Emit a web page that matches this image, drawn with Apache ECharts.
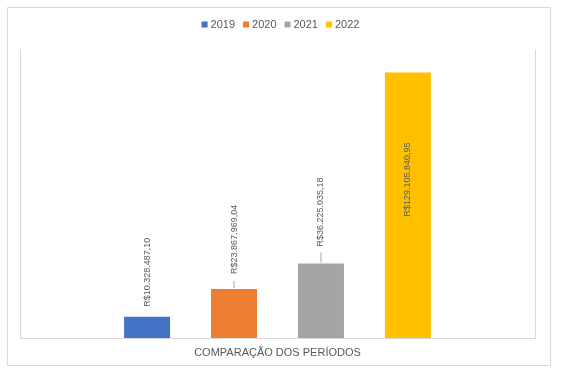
<!DOCTYPE html>
<html><head><meta charset="utf-8">
<script src="https://cdn.jsdelivr.net/npm/echarts@6/dist/echarts.min.js"></script>
<style>html,body{margin:0;padding:0;background:#fff}#c{width:561px;height:380px}</style>
</head><body><div id="c"></div>
<script>
const categories = ['COMPARAÇÃO DOS PERÍODOS'];
const seriesNames = ['2019', '2020', '2021', '2022'];
const values = [10328487.10, 23867969.04, 36225035.18, 129105840.95];
const colors = ['#4472C4', '#ED7D31', '#A5A5A5', '#FFC000'];
const yMax = 140000000;

function brl(v) {
  const parts = v.toFixed(2).split('.');
  const intPart = parts[0].replace(/\B(?=(\d{3})+(?!\d))/g, '.');
  return 'R$' + intPart + ',' + parts[1];
}

const labelCfg = [
  {position: 'top', distance: 10, align: 'left', lead: 0, gap: 0},
  {position: 'top', distance: 1, align: 'left', lead: 7, gap: 7},
  {position: 'top', distance: 1, align: 'left', lead: 10, gap: 6},
  {position: 'insideTop', distance: 70, align: 'right', lead: 0, gap: 0}
];

const series = seriesNames.map((name, i) => {
  const c = labelCfg[i];
  return {
    name: name,
    type: 'bar',
    data: [values[i]],
    barWidth: 46,
    barGap: '89%',
    itemStyle: {color: colors[i]},
    label: {
      show: true,
      position: c.position,
      distance: c.distance,
      rotate: 90,
      align: c.align,
      verticalAlign: 'middle',
      fontFamily: 'Liberation Sans',
      fontSize: 9,
      color: '#595959',
      formatter: p => (c.lead ? '{l|}{s|}' : '') + '{v|' + brl(p.value) + '}',
      rich: {
        l: {width: c.lead, height: 1, backgroundColor: '#a6a6a6'},
        s: {width: c.gap, height: 1},
        v: {fontFamily: 'Liberation Sans', fontSize: 9, color: '#595959'}
      }
    }
  };
});

const chart = echarts.init(document.getElementById('c'));
chart.setOption({
  animation: false,
  backgroundColor: '#fff',
  graphic: [{
    type: 'rect', silent: true, z: -10,
    shape: {x: 7.5, y: 7.5, width: 543, height: 358},
    style: {fill: '#fff', stroke: '#d9d9d9', lineWidth: 1}
  }],
  legend: {
    data: seriesNames,
    top: 14,
    left: 'center',
    icon: 'rect',
    itemWidth: 6,
    itemHeight: 6,
    itemGap: 8,
    textStyle: {fontFamily: 'Liberation Sans', fontSize: 11, color: '#595959', padding: [0, 0, 0, -2]}
  },
  grid: {left: 20, right: 26, top: 50, bottom: 42, containLabel: false},
  xAxis: {
    type: 'category',
    data: categories,
    axisLine: {show: true, lineStyle: {color: '#d9d9d9'}},
    axisTick: {show: false},
    axisLabel: {margin: 9, fontFamily: 'Liberation Sans', fontSize: 11, color: '#595959'}
  },
  yAxis: [{
    type: 'value', min: 0, max: yMax,
    axisLine: {show: true, lineStyle: {color: '#d9d9d9'}},
    axisTick: {show: false}, axisLabel: {show: false}, splitLine: {show: false}
  }, {
    type: 'value', min: 0, max: yMax, position: 'right',
    axisLine: {show: true, lineStyle: {color: '#d9d9d9'}},
    axisTick: {show: false}, axisLabel: {show: false}, splitLine: {show: false}
  }],
  series: series
});
</script>
</body></html>
